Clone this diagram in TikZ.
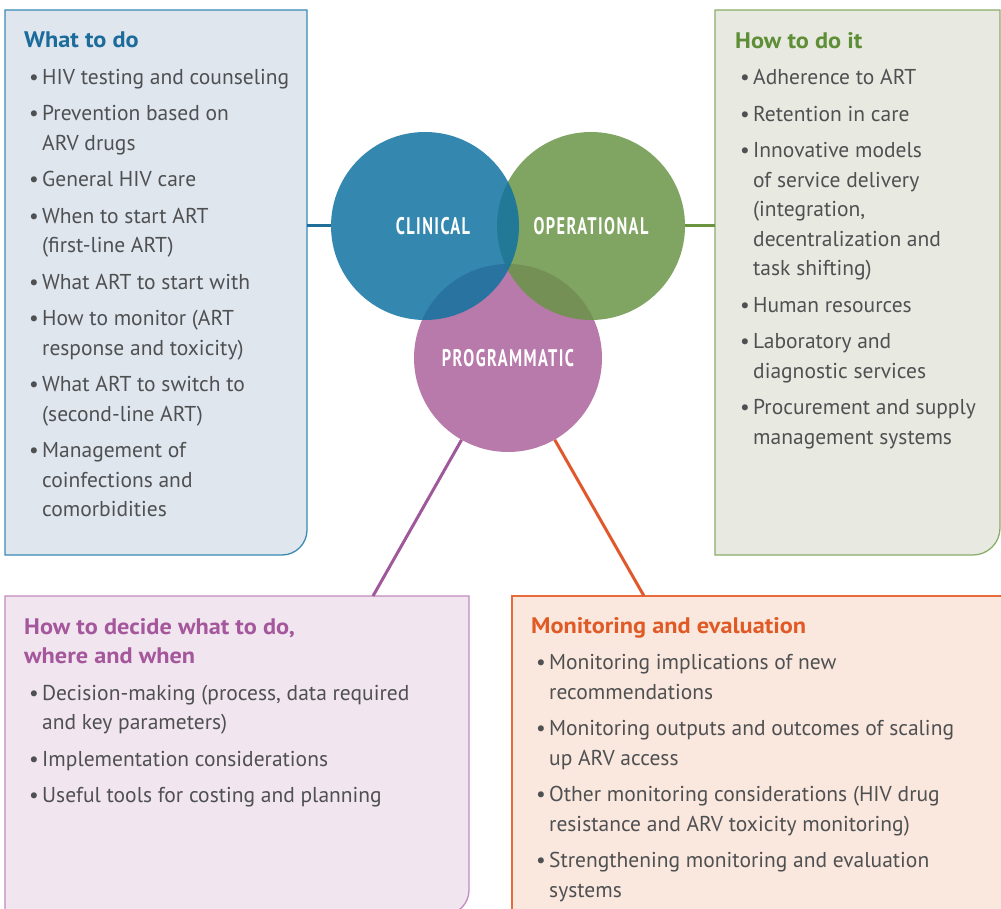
\documentclass[tikz,border=0pt]{standalone}
\usepackage{fontspec}
\setmainfont{PT Sans}
\newfontfamily\condfont[FakeStretch=0.68,LetterSpace=6]{PT Sans Bold}
\newfontfamily\headfont[FakeStretch=1.08]{PT Sans Bold}
\definecolor{bodygrey}{HTML}{4F5052}
\definecolor{bxAfill}{HTML}{DFE6EE}\definecolor{bxAdraw}{HTML}{3A8AB3}
\definecolor{bxBfill}{HTML}{E8E9E0}\definecolor{bxBdraw}{HTML}{8AAE6A}
\definecolor{bxCfill}{HTML}{F1E5EF}\definecolor{bxCdraw}{HTML}{C28ABD}
\definecolor{bxDfill}{HTML}{FAE8DE}\definecolor{bxDdraw}{HTML}{E86A3A}
\definecolor{hA}{HTML}{1B6B9B}\definecolor{hB}{HTML}{5E8E36}
\definecolor{hC}{HTML}{A5579C}\definecolor{hD}{HTML}{E05A26}
\definecolor{cClin}{HTML}{1172A0}\definecolor{cOper}{HTML}{6A9446}
\definecolor{cProg}{HTML}{AB639B}
\definecolor{lnA}{HTML}{1F6E99}\definecolor{lnB}{HTML}{6A9440}
\definecolor{lnC}{HTML}{A0589A}\definecolor{lnD}{HTML}{E0572B}
\newcommand{\bul}{\hspace*{5pt}\makebox[13pt][l]{\textbullet}}
\newcommand{\ind}{\hspace*{18pt}}
\newcommand{\hd}[2]{{\headfont\fontsize{22.5}{29.5}\selectfont\color{#1}#2}}
\begin{document}
\begin{tikzpicture}[x=1pt,y=-1pt,
  body/.style={inner sep=0pt, anchor=north west, align=left, text=bodygrey,
    font=\fontsize{21.5}{29.5}\selectfont},
  venn/.style={circle, minimum size=188pt, inner sep=0pt, fill opacity=0.85},
  vlabel/.style={text=white, font=\condfont\fontsize{24}{26}\selectfont},
  boxline/.style={line width=1.3pt},
  conn/.style={line width=3pt}]
\useasboundingbox (0,0) rectangle (1001,909);
% boxes
\draw[boxline, draw=bxAdraw, fill=bxAfill] (5,10) -- (307,10) -- (307,530) arc(0:90:25) -- (5,555) -- cycle;
\draw[boxline, draw=bxBdraw, fill=bxBfill] (715,10) -- (1000,10) -- (1000,528) arc(0:90:27) -- (715,555) -- cycle;
\draw[boxline, draw=bxCdraw, fill=bxCfill] (5,596) -- (469,596) -- (469,890) arc(0:90:25) -- (5,915) -- cycle;
\draw[boxline, draw=bxDdraw, fill=bxDfill] (512,596) -- (1010,596) -- (1010,915) -- (512,915) -- cycle;
% connector anchors
\coordinate (bAr) at (307,226);
\coordinate (bBl) at (715,226);
\coordinate (bCt) at (373,596);
\coordinate (bDt) at (644,596);
% circles
\node[venn, fill=cProg] (prog) at (508,358) {};
\node[venn, fill=cOper] (oper) at (591,226) {};
\node[venn, fill=cClin] (clin) at (425,226) {};
\node[vlabel] (clinL) at (433,226) {CLINICAL};
\node[vlabel] (operL) at (591,226) {OPERATIONAL};
\node[vlabel] (progL) at (508,358) {PROGRAMMATIC};
% connectors
\draw[conn, lnA] (bAr) -- (clin.west);
\draw[conn, lnB] (oper.east) -- (bBl);
\draw[conn, lnC] (prog) -- (bCt);
\draw[conn, lnD] (prog) -- (bDt);
% texts
\node[body] (tA) at (24,32) {\hd{hA}{What to do}\\[7pt]
\bul HIV testing and counseling\\[7pt]
\bul Prevention based on\\ \ind ARV drugs\\[7pt]
\bul General HIV care\\[7pt]
\bul When to start ART\\ \ind (first-line ART)\\[7pt]
\bul What ART to start with\\[7pt]
\bul How to monitor (ART\\ \ind response and toxicity)\\[7pt]
\bul What ART to switch to\\ \ind (second-line ART)\\[7pt]
\bul Management of\\ \ind coinfections and\\ \ind comorbidities};
\node[body] (tB) at (735,32) {\hd{hB}{How to do it}\\[7pt]
\bul Adherence to ART\\[7pt]
\bul Retention in care\\[7pt]
\bul Innovative models\\ \ind of service delivery\\ \ind (integration,\\ \ind decentralization and\\ \ind task shifting)\\[7pt]
\bul Human resources\\[7pt]
\bul Laboratory and\\ \ind diagnostic services\\[7pt]
\bul Procurement and supply\\ \ind management systems};
\node[body] (tC) at (24,618) {\hd{hC}{How to decide what to do,}\\ \hd{hC}{where and when}\\[7pt]
\bul Decision-making (process, data required\\ \ind and key parameters)\\[7pt]
\bul Implementation considerations\\[7pt]
\bul Useful tools for costing and planning};
\node[body] (tD) at (531,617) {\hd{hD}{Monitoring and evaluation}\\[7pt]
\bul Monitoring implications of new\\ \ind recommendations\\[7pt]
\bul Monitoring outputs and outcomes of scaling\\ \ind up ARV access\\[7pt]
\bul Other monitoring considerations (HIV drug\\ \ind resistance and ARV toxicity monitoring)\\[7pt]
\bul Strengthening monitoring and evaluation\\ \ind systems};
\end{tikzpicture}
\end{document}
